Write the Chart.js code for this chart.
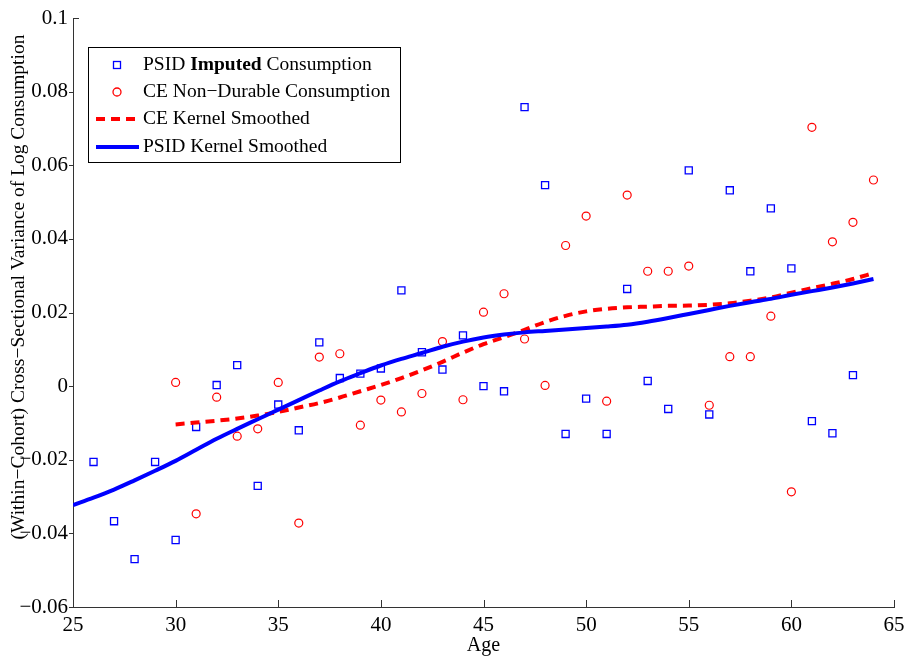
<!DOCTYPE html>
<html>
<head>
<meta charset="utf-8">
<script src="https://cdn.jsdelivr.net/npm/chart.js@4.4.1/dist/chart.umd.min.js"></script>
<style>
    html, body { margin: 0; padding: 0; background: #fff; }
    #wrap { width: 905px; height: 656px; position: relative; }
</style>
</head>
<body>
<div id="wrap"><canvas id="varChart"></canvas></div>
<script>
const psidAges = [26, 27, 28, 29, 30, 31, 32, 33, 34, 35, 36, 37, 38, 39, 40, 41, 42, 43, 44, 45,
    46, 47, 48, 49, 50, 51, 52, 53, 54, 55, 56, 57, 58, 59, 60, 61, 62, 63];
const psidValues = [-0.0206, -0.0367, -0.0470, -0.0206, -0.0418, -0.0111, 0.0003, 0.0057, -0.0271, -0.0050,
    -0.0120, 0.0119, 0.0022, 0.0034, 0.0048, 0.0260, 0.0092, 0.0045, 0.0138, 0.0000,
    -0.0014, 0.0758, 0.0546, -0.0130, -0.0034, -0.0130, 0.0264, 0.0014, -0.0062, 0.0586,
    -0.0077, 0.0532, 0.0312, 0.0483, 0.0320, -0.0095, -0.0128, 0.0030];

const ceAges = [30, 31, 32, 33, 34, 35, 36, 37, 38, 39, 40, 41, 42, 43, 44, 45, 46, 47, 48, 49,
    50, 51, 52, 53, 54, 55, 56, 57, 58, 59, 60, 61, 62, 63, 64];
const ceValues = [0.0010, -0.0347, -0.0030, -0.0136, -0.0116, 0.0010, -0.0372, 0.0079, 0.0088, -0.0106,
    -0.0038, -0.0070, -0.0020, 0.0121, -0.0037, 0.0201, 0.0251, 0.0128, 0.0002, 0.0382,
    0.0462, -0.0041, 0.0519, 0.0312, 0.0312, 0.0326, -0.0052, 0.0080, 0.0080, 0.0190,
    -0.0287, 0.0703, 0.0392, 0.0445, 0.0560];

const psidSmoothAges = [25, 26, 27, 28, 29, 30, 31, 32, 33, 34, 35, 36, 37, 38, 39, 40, 41, 42, 43, 44,
    45, 46, 47, 48, 49, 50, 51, 52, 53, 54, 55, 56, 57, 58, 59, 60, 61, 62, 63, 64];
const psidSmooth = [-0.0323, -0.0303, -0.0281, -0.0256, -0.0230, -0.0203, -0.0173, -0.0143, -0.0116, -0.0090,
    -0.0064, -0.0038, -0.0012, 0.0013, 0.0035, 0.0056, 0.0074, 0.0090, 0.0107, 0.0121,
    0.0132, 0.0140, 0.0146, 0.0150, 0.0154, 0.0158, 0.0162, 0.0167, 0.0175, 0.0185,
    0.0196, 0.0207, 0.0218, 0.0228, 0.0237, 0.0248, 0.0258, 0.0268, 0.0279, 0.0291];

const ceSmoothAges = [30, 31, 32, 33, 34, 35, 36, 37, 38, 39, 40, 41, 42, 43, 44, 45, 46, 47, 48, 49,
    50, 51, 52, 53, 54, 55, 56, 57, 58, 59, 60, 61, 62, 63, 64];
const ceSmooth = [-0.0104, -0.0099, -0.0094, -0.0088, -0.0080, -0.0070, -0.0058, -0.0046, -0.0031, -0.0014,
    0.0003, 0.0022, 0.0043, 0.0066, 0.0091, 0.0114, 0.0133, 0.0153, 0.0174, 0.0191,
    0.0203, 0.0210, 0.0214, 0.0216, 0.0218, 0.0219, 0.0221, 0.0225, 0.0232, 0.0241,
    0.0254, 0.0266, 0.0278, 0.0291, 0.0307];

const xTicks = [25, 30, 35, 40, 45, 50, 55, 60, 65];
const yTicks = [-0.06, -0.04, -0.02, 0, 0.02, 0.04, 0.06, 0.08, 0.1];
const yTickLabels = ['\u22120.06', '\u22120.04', '\u22120.02', '0', '0.02', '0.04', '0.06', '0.08', '0.1'];

const yTitle = '(Within\u2212Cohort) Cross\u2212Sectional Variance of Log Consumption';
const serif = "'Liberation Serif', 'Times New Roman', serif";

function toPoints(xs, ys) {
    return xs.map((x, i) => ({ x: x, y: ys[i] }));
}

// MATLAB-style legend box, drawn on the canvas
const boxLegend = {
    id: 'boxLegend',
    afterDraw(chart) {
        const c = chart.ctx;
        const fs = '19.5px ';
        c.save();
        c.fillStyle = '#fff';
        c.fillRect(88, 47, 313, 116);
        c.strokeStyle = '#000';
        c.lineWidth = 1;
        c.strokeRect(88.5, 47.5, 312, 115);

        const rows = [65, 92, 119, 147];
        const tx = 143;
        c.textBaseline = 'middle';
        c.textAlign = 'left';
        c.fillStyle = '#000';

        // row 1: squares
        c.strokeStyle = '#0000ff';
        c.lineWidth = 1.3;
        c.strokeRect(113.5, rows[0] - 3.5, 7, 7);
        let x = tx;
        c.font = fs + serif;
        c.fillText('PSID ', x, rows[0]);
        x += c.measureText('PSID ').width;
        c.font = 'bold ' + fs + serif;
        c.fillText('Imputed', x, rows[0]);
        x += c.measureText('Imputed').width;
        c.font = fs + serif;
        c.fillText(' Consumption', x, rows[0]);

        // row 2: circles
        c.strokeStyle = '#ff0000';
        c.beginPath();
        c.arc(117, rows[1], 4, 0, Math.PI * 2);
        c.stroke();
        c.fillText('CE Non\u2212Durable Consumption', tx, rows[1]);

        // row 3: dashed red
        c.lineWidth = 4;
        c.setLineDash([9, 6]);
        c.beginPath();
        c.moveTo(96, rows[2]);
        c.lineTo(139, rows[2]);
        c.stroke();
        c.setLineDash([]);
        c.fillText('CE Kernel Smoothed', tx, rows[2]);

        // row 4: solid blue
        c.strokeStyle = '#0000ff';
        c.beginPath();
        c.moveTo(96, rows[3]);
        c.lineTo(139, rows[3]);
        c.stroke();
        c.fillText('PSID Kernel Smoothed', tx, rows[3]);
        c.restore();
    }
};

// short tick marks on the axes + rotated y title
const tickMarks = {
    id: 'tickMarks',
    afterDraw(chart) {
        const c = chart.ctx;
        const xs = chart.scales.x;
        const ys = chart.scales.y;
        const area = chart.chartArea;
        c.save();
        c.strokeStyle = '#333';
        c.lineWidth = 1;
        c.beginPath();
        yTicks.forEach(v => {
            const py = Math.round(ys.getPixelForValue(v)) + 0.5;
            if (v === yTicks[yTicks.length - 1]) {
                c.moveTo(area.left, py);
                c.lineTo(area.left + 6, py);
            } else {
                c.moveTo(area.left - 4, py);
                c.lineTo(area.left, py);
            }
        });
        xTicks.forEach(v => {
            const px = Math.round(xs.getPixelForValue(v)) + 0.5;
            c.moveTo(px, area.bottom);
            c.lineTo(px, area.bottom - 7);
        });
        c.stroke();

        c.translate(19, 287);
        c.rotate(-Math.PI / 2);
        c.font = '19.5px ' + serif;
        c.fillStyle = '#000';
        c.textAlign = 'center';
        c.textBaseline = 'middle';
        c.fillText(yTitle, 0, 0);
        c.restore();
    }
};

const ctx = document.getElementById('varChart').getContext('2d');

const varChart = new Chart(ctx, {
    type: 'scatter',
    data: {
        datasets: [
            {
                label: 'PSID Kernel Smoothed',
                data: toPoints(psidSmoothAges, psidSmooth),
                showLine: true,
                borderColor: '#0000ff',
                borderWidth: 4,
                pointRadius: 0,
                tension: 0.4,
                cubicInterpolationMode: 'monotone'
            },
            {
                label: 'CE Kernel Smoothed',
                data: toPoints(ceSmoothAges, ceSmooth),
                showLine: true,
                borderColor: '#ff0000',
                borderWidth: 4,
                borderDash: [9, 6],
                pointRadius: 0,
                tension: 0.4,
                cubicInterpolationMode: 'monotone'
            },
            {
                label: 'PSID Imputed Consumption',
                data: toPoints(psidAges, psidValues),
                pointStyle: 'rect',
                pointRadius: 5,
                borderColor: '#0000ff',
                backgroundColor: 'rgba(0,0,0,0)',
                borderWidth: 1.3
            },
            {
                label: 'CE Non-Durable Consumption',
                data: toPoints(ceAges, ceValues),
                pointStyle: 'circle',
                pointRadius: 4,
                borderColor: '#ff0000',
                backgroundColor: 'rgba(0,0,0,0)',
                borderWidth: 1.2
            }
        ]
    },
    options: {
        responsive: true,
        maintainAspectRatio: false,
        animation: false,
        events: [],
        layout: {
            padding: { top: 18, right: 11, bottom: 0, left: 0 }
        },
        plugins: {
            legend: { display: false },
            tooltip: { enabled: false }
        },
        scales: {
            x: {
                type: 'linear',
                min: 25,
                max: 65,
                afterBuildTicks: scale => {
                    scale.ticks = xTicks.map(v => ({ value: v }));
                },
                afterFit: scale => {
                    scale.height = 49;
                    scale.paddingLeft = 0;
                    scale.paddingRight = 0;
                },
                grid: { display: false, drawTicks: false },
                border: { display: true, color: '#333', width: 1 },
                ticks: {
                    color: '#000',
                    padding: 6,
                    maxRotation: 0,
                    font: { family: serif, size: 21 },
                    callback: value => String(value)
                },
                title: {
                    display: true,
                    text: 'Age',
                    color: '#000',
                    padding: 0,
                    font: { family: serif, size: 20, lineHeight: 1 }
                }
            },
            y: {
                min: -0.06,
                max: 0.1,
                afterBuildTicks: scale => {
                    scale.ticks = yTicks.map(v => ({ value: v }));
                },
                afterFit: scale => {
                    scale.width = 73;
                    scale.paddingTop = 0;
                    scale.paddingBottom = 0;
                },
                grid: { display: false, drawTicks: false },
                border: { display: true, color: '#333', width: 1 },
                ticks: {
                    color: '#000',
                    padding: 5,
                    font: { family: serif, size: 21 },
                    callback: function (value, index) {
                        return yTickLabels[index];
                    }
                }
            }
        }
    },
    plugins: [tickMarks, boxLegend]
});
</script>
</body>
</html>
